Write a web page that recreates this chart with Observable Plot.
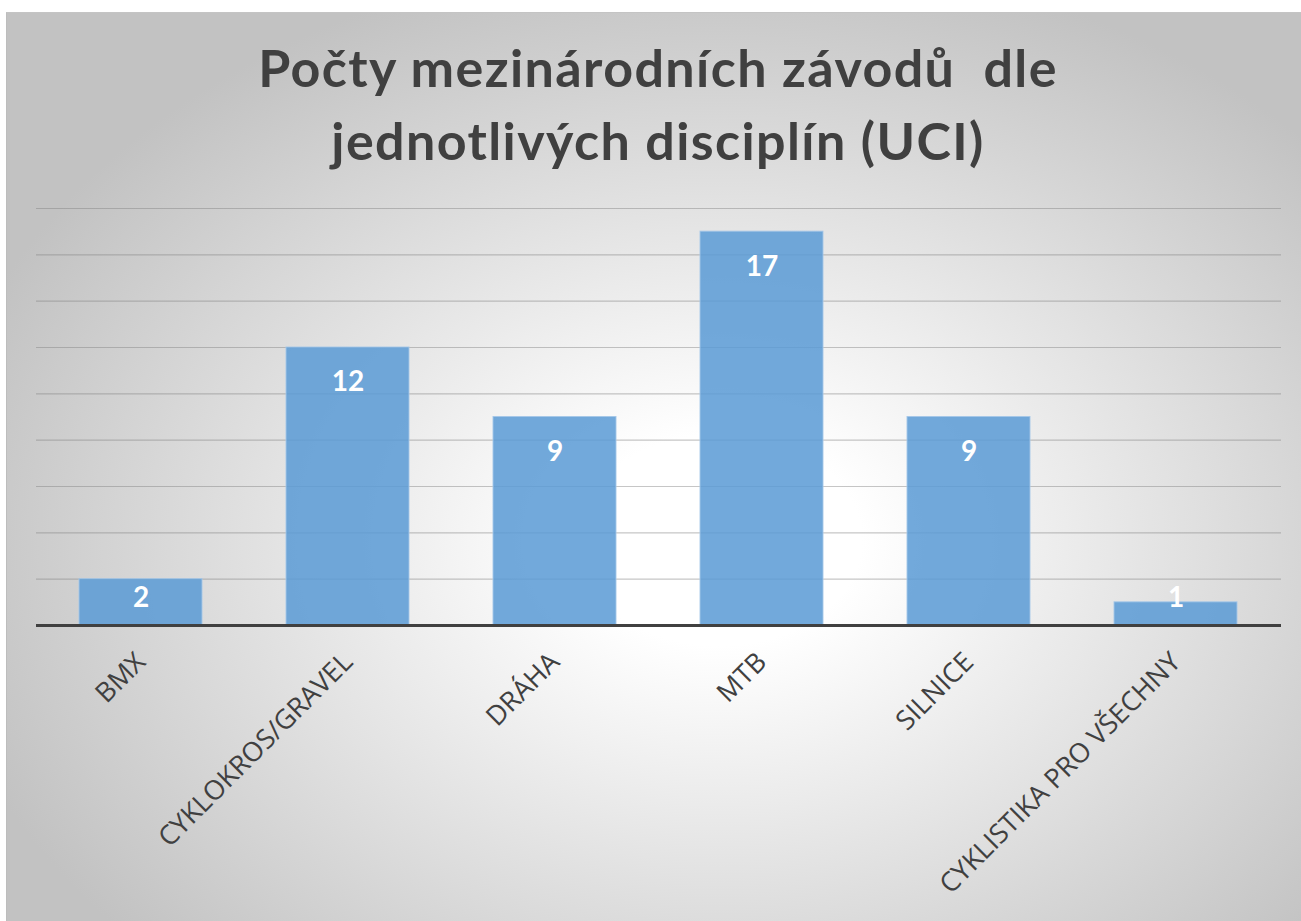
<!DOCTYPE html>
<html>
<head>
<meta charset="utf-8">
<script src="https://cdn.jsdelivr.net/npm/d3@7"></script>
<script src="https://cdn.jsdelivr.net/npm/@observablehq/plot@0.6"></script>
<style>
  html, body { margin: 0; padding: 0; }
  body { width: 1301px; height: 921px; overflow: hidden; background: #ffffff; position: relative; }
  #frame {
    position: absolute; left: 6px; top: 12px; width: 1295px; height: 909px;
    border-left: 1px solid #bdbdbd; border-top: 1px solid #c4c4c4;
    background: radial-gradient(ellipse farthest-side at 55% 58%, #ffffff 20%, #c2c2c2 112%);
  }
  #wrap { position: absolute; left: 0; top: 0; width: 1301px; height: 921px; }
  #title {
    box-sizing: border-box; height: 190px; padding-top: 31px; padding-left: 15px;
    font-family: Lato, sans-serif; font-weight: bold; font-size: 52px; line-height: 73px;
    letter-spacing: 1.4px;
    color: #404040; text-align: center; white-space: pre;
  }
  #plot svg { display: block; }
</style>
</head>
<body>
<div id="frame"></div>
<div id="wrap">
  <div id="title"></div>
  <div id="plot"></div>
</div>
<script>
const titleLines = ["Počty mezinárodních závodů  dle", "jednotlivých disciplín (UCI)"];
const categories = ["BMX", "CYKLOKROS/GRAVEL", "DRÁHA", "MTB", "SILNICE", "CYKLISTIKA PRO VŠECHNY"];
const values = [2, 12, 9, 17, 9, 1];
const gridTicks = [2, 4, 6, 8, 10, 12, 14, 16, 18];
const yDomain = [0, 18];

document.getElementById("title").textContent = titleLines.join("\n");

const data = categories.map((c, i) => ({category: c, value: values[i]}));

const chart = Plot.plot({
  width: 1301,
  height: 731,
  marginLeft: 36,
  marginRight: 20,
  marginTop: 18,
  marginBottom: 296,
  style: {background: "transparent", fontFamily: "'Open Sans', sans-serif", fontSize: "27px", color: "#404040"},
  x: {domain: categories, paddingInner: 0.405, paddingOuter: 0.2, label: null},
  y: {domain: yDomain, axis: null},
  marks: [
    Plot.ruleY(gridTicks, {stroke: "#808080", strokeOpacity: 0.45, strokeWidth: 1.2}),
    Plot.barY(data, {x: "category", y: "value", fill: "#5B9BD5", fillOpacity: 0.86, stroke: "#a4c7e8", strokeWidth: 1, strokeOpacity: 0.9}),
    Plot.ruleY([0], {stroke: "#404040", strokeWidth: 3}),
    Plot.text(data.filter(d => d.value >= 3), {
      x: "category", y: "value", text: d => String(d.value), dy: 35,
      fill: "white", fontWeight: "bold", fontSize: 28, fontFamily: "Lato, sans-serif"
    }),
    Plot.text(data.filter(d => d.value < 3), {
      x: "category", y: () => 0, text: d => String(d.value), dy: -27.5,
      fill: "white", fontWeight: "bold", fontSize: 28, fontFamily: "Lato, sans-serif"
    }),
    Plot.axisX({tickSize: 0, tickPadding: 32, tickRotate: -45, fontSize: 27, fontFamily: "'Open Sans', sans-serif", label: null})
  ]
});
document.getElementById("plot").appendChild(chart);
</script>
</body>
</html>
